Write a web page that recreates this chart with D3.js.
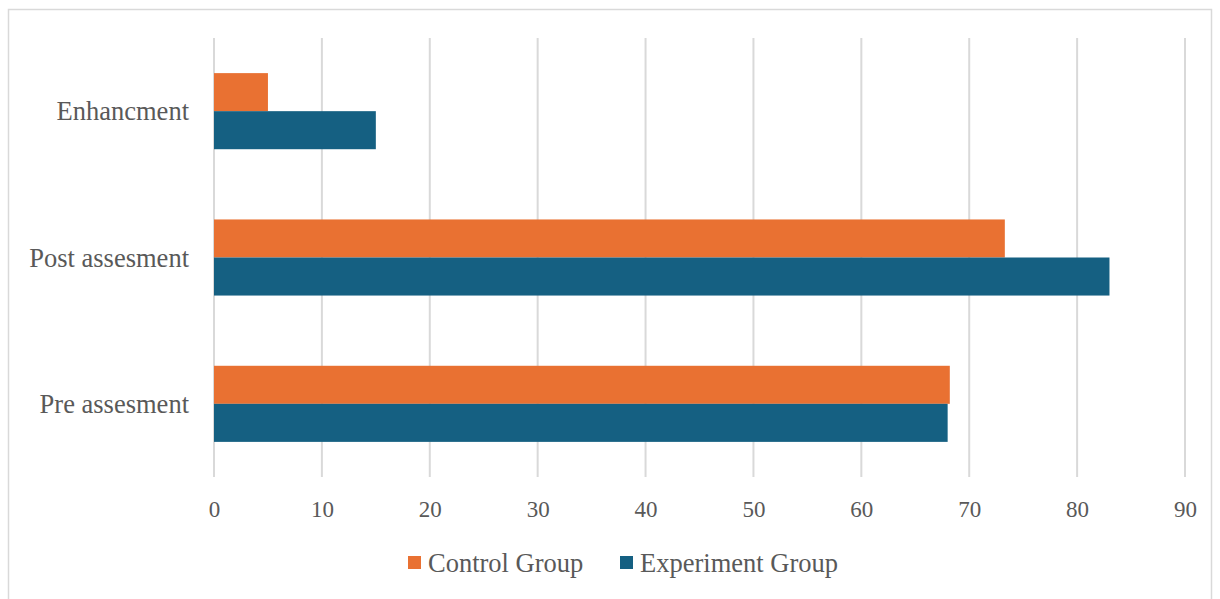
<!DOCTYPE html>
<html><head><meta charset="utf-8">
<script src="https://cdn.jsdelivr.net/npm/d3@7"></script>
<style>
body{margin:0;background:#fff;}
text{font-family:"Liberation Serif","DejaVu Serif",serif;fill:#595959;}
</style></head>
<body><svg id="c" width="1220" height="599"></svg>
<script>
const categories = ["Enhancment", "Post assesment", "Pre assesment"];
const seriesNames = ["Control Group", "Experiment Group"];
const controlValues = [5, 73.3, 68.2];
const experimentValues = [15, 83, 68];
const xTicks = [0, 10, 20, 30, 40, 50, 60, 70, 80, 90];
const colors = ["#E97132", "#156082"];

(function(){
const svg = d3.select("#c");
svg.append("rect").attr("x", 8.5).attr("y", 9.5).attr("width", 1203).attr("height", 600)
  .attr("fill", "#fff").attr("stroke", "#d9d9d9").attr("stroke-width", 1.5);

const pLeft = 214, pRight = 1185, pTop = 38, pBottom = 477;
const x = d3.scaleLinear().domain([0, 90]).range([pLeft, pRight]);
const y = d3.scaleBand().domain(categories).range([pTop, pBottom]).paddingInner(0.48).paddingOuter(0.24);
const y1 = d3.scaleBand().domain(seriesNames).range([0, y.bandwidth()]);

svg.append("g").selectAll("line").data(xTicks).join("line")
  .attr("x1", d => x(d)).attr("x2", d => x(d)).attr("y1", pTop).attr("y2", pBottom)
  .attr("stroke", "#d9d9d9").attr("stroke-width", 2);

const rows = categories.map((c, i) => ({cat: c, vals: [controlValues[i], experimentValues[i]]}));
svg.append("g").selectAll("g").data(rows).join("g")
  .attr("transform", d => `translate(0,${y(d.cat)})`)
  .selectAll("rect").data(d => d.vals.map((v, j) => ({s: seriesNames[j], v, j}))).join("rect")
  .attr("x", x(0)).attr("y", d => y1(d.s)).attr("height", y1.bandwidth())
  .attr("width", d => x(d.v) - x(0)).attr("fill", d => colors[d.j]);

const xAxis = d3.axisBottom(x).tickValues(xTicks).tickSize(0).tickPadding(0);
const gx = svg.append("g").attr("transform", `translate(0,${pBottom})`).call(xAxis);
gx.select(".domain").remove();
gx.selectAll("text").attr("dy", null).attr("y", 40).attr("font-size", 23)
  .style("font-family", '"Liberation Serif",serif').attr("fill", "#595959");

const yAxis = d3.axisLeft(y).tickSize(0).tickPadding(0);
const gy = svg.append("g").attr("transform", `translate(189,0)`).call(yAxis);
gy.select(".domain").remove();
gy.selectAll("text").attr("dy", "0.35em").attr("x", 0).attr("font-size", 26.5)
  .style("font-family", '"Liberation Serif",serif').attr("fill", "#595959");

const legendItems = [{name: seriesNames[0], x: 408, c: colors[0]}, {name: seriesNames[1], x: 620, c: colors[1]}];
const lg = svg.append("g").selectAll("g").data(legendItems).join("g")
  .attr("transform", d => `translate(${d.x},556)`);
lg.append("rect").attr("width", 13).attr("height", 13).attr("fill", d => d.c);
lg.append("text").attr("x", 20).attr("y", 7).attr("dy", "0.35em").attr("font-size", 26.5).text(d => d.name);
})();
</script></body></html>
